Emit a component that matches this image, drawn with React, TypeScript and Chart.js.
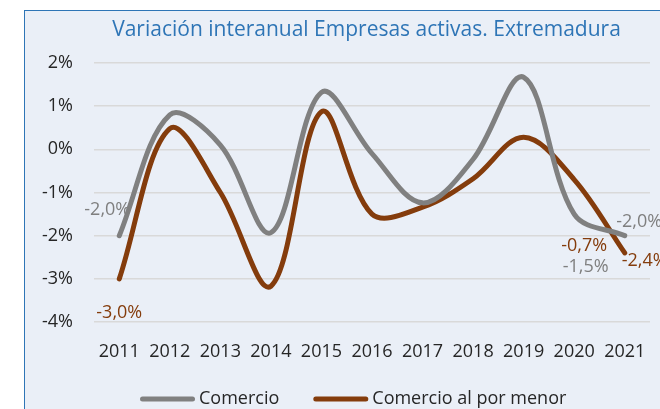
import { useEffect, useRef } from 'react';
import { Chart, registerables } from 'chart.js';

Chart.register(...registerables);

const categories = ['2011', '2012', '2013', '2014', '2015', '2016', '2017', '2018', '2019', '2020', '2021'];
const comercio = [-2.0, 0.8, 0.1, -1.93, 1.32, -0.1, -1.24, -0.23, 1.67, -1.5, -2.0];
const alPorMenor = [-3.0, 0.48, -1.0, -3.17, 0.87, -1.5, -1.34, -0.68, 0.28, -0.7, -2.4];
const seriesNames = ['Comercio', 'Comercio al por menor'];
const seriesColors = ['#808080', '#843C0C'];
const labelColors = ['#7F7F7F', '#843C0C'];
const yMin = -4;
const yMax = 2;
const yStep = 1;
const titleText = 'Variación interanual Empresas activas. Extremadura';
// which points carry a data label, and label offsets (px) from the point
const labelledPoints = [
  { series: 0, index: 0, dx: -12, dy: -26 },
  { series: 1, index: 0, dx: 0, dy: 34 },
  { series: 1, index: 9, dx: 10, dy: 66 },
  { series: 0, index: 9, dx: 11.5, dy: 53 },
  { series: 0, index: 10, dx: 14.5, dy: -14 },
  { series: 1, index: 10, dx: 20, dy: 8 },
];

const FONT = '"Open Sans", "Liberation Sans", sans-serif';

const fmt = (v: number) => v.toFixed(1).replace('.', ',') + '%';

const decorPlugin = {
  id: 'decor',
  beforeDraw(chart: any) {
    const ctx = chart.ctx;
    ctx.save();
    ctx.fillStyle = '#EAEFF7';
    ctx.fillRect(24.5, 10.5, 700, 420);
    ctx.strokeStyle = '#2E75B6';
    ctx.lineWidth = 1;
    ctx.strokeRect(24.5, 10.5, 700, 420);
    ctx.restore();
  },
  afterDraw(chart: any) {
    const ctx = chart.ctx;
    ctx.save();
    // title
    ctx.font = `21px ${FONT}`;
    ctx.fillStyle = '#2E75B6';
    ctx.textAlign = 'center';
    ctx.textBaseline = 'alphabetic';
    ctx.fillText(titleText, 366.5, 35.5);

    // data labels
    ctx.font = `18px ${FONT}`;
    ctx.textAlign = 'center';
    ctx.textBaseline = 'middle';
    labelledPoints.forEach((p) => {
      const meta = chart.getDatasetMeta(p.series);
      const el = meta.data[p.index];
      const v = chart.data.datasets[p.series].data[p.index] as number;
      ctx.fillStyle = labelColors[p.series];
      ctx.fillText(fmt(v), el.x + p.dx, el.y + p.dy);
    });

    // legend
    ctx.textAlign = 'left';
    ctx.lineCap = 'round';
    ctx.lineWidth = 5;
    let x = 140;
    const y = 399;
    seriesNames.forEach((name, i) => {
      ctx.strokeStyle = seriesColors[i];
      ctx.beginPath();
      ctx.moveTo(x + 2.5, y);
      ctx.lineTo(x + 52.5, y);
      ctx.stroke();
      ctx.fillStyle = '#262626';
      ctx.fillText(name, x + 59, y);
      x += 59 + ctx.measureText(name).width + 34;
    });
    ctx.restore();
  },
};

export default function App() {
  const ref = useRef<HTMLCanvasElement | null>(null);

  useEffect(() => {
    document.body.style.margin = '0';
    const canvas = ref.current;
    if (!canvas) return;
    const chart = new Chart(canvas, {
      type: 'line',
      data: {
        labels: categories,
        datasets: [
          {
            label: seriesNames[0],
            data: comercio,
            borderColor: seriesColors[0],
            backgroundColor: seriesColors[0],
            borderWidth: 5,
            borderCapStyle: 'round',
            borderJoinStyle: 'round',
            pointRadius: 0,
            tension: 0.35,
          },
          {
            label: seriesNames[1],
            data: alPorMenor,
            borderColor: seriesColors[1],
            backgroundColor: seriesColors[1],
            borderWidth: 5,
            borderCapStyle: 'round',
            borderJoinStyle: 'round',
            pointRadius: 0,
            tension: 0.35,
          },
        ],
      },
      options: {
        responsive: false,
        animation: false,
        devicePixelRatio: 1,
        layout: { padding: { left: 30, right: 10, top: 63, bottom: 0 } },
        plugins: {
          legend: { display: false },
          title: { display: false },
          tooltip: { enabled: false },
        },
        scales: {
          x: {
            offset: true,
            grid: { display: false },
            border: { display: false },
            ticks: {
              color: '#262626',
              font: { family: FONT, size: 18 },
              padding: 11,
              maxRotation: 0,
              autoSkip: false,
            },
            afterFit: (s: any) => {
              s.height = 87;
            },
          },
          y: {
            min: yMin,
            max: yMax,
            grid: { color: '#D9D9D9', lineWidth: 1.5, drawTicks: false },
            border: { display: false },
            ticks: {
              stepSize: yStep,
              color: '#262626',
              font: { family: FONT, size: 18 },
              padding: 21,
              callback: (v: any) => v + '%',
            },
            afterFit: (s: any) => {
              s.width = 64;
            },
          },
        },
      },
      plugins: [decorPlugin],
    });
    return () => chart.destroy();
  }, []);

  return <canvas ref={ref} width={660} height={409} style={{ display: 'block' }} />;
}
